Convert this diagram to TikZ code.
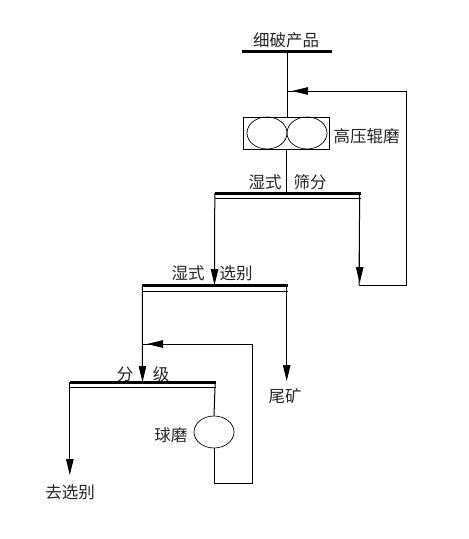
\documentclass[tikz,border=0pt]{standalone}
\usepackage{fontspec}
\usepackage{xcolor}
\usetikzlibrary{arrows.meta,calc,positioning,shapes.geometric}
\newfontfamily\cjk{Noto Sans CJK SC}

\begin{document}
\begin{tikzpicture}[x=1pt, y=-1pt,
    every node/.style={inner sep=0pt},
    lab/.style={font=\cjk\fontsize{16.5}{18}\selectfont, text=black!85},
    bar/.style={fill=black, minimum height=3pt},
    thinbar/.style={fill=black, minimum height=1pt},
    roll/.style={draw, ellipse, minimum width=40pt, minimum height=32pt, line width=0.7pt},
    pipe/.style={line width=1pt},
    arr/.style={pipe, -{Triangle[length=16pt, width=7.5pt]}}]
  \useasboundingbox (0,0) rectangle (469,539);
  % bars
  \node[bar, minimum width=90pt] (feed) at (287,51) {};
  \node[bar, minimum width=146pt] (scrA) at (287.5,193) {};
  \node[thinbar, minimum width=146pt] (scrAb) at (287.5,198) {};
  \node[bar, minimum width=146pt] (sepA) at (214.5,285) {};
  \node[thinbar, minimum width=146pt] (sepAb) at (214.5,291) {};
  \node[bar, minimum width=146pt] (clsA) at (142.5,382) {};
  \node[thinbar, minimum width=146pt] (clsAb) at (142.5,387) {};
  % roller press
  \node[draw, line width=0.8pt, minimum width=86pt, minimum height=32pt] (hpgr) at (286,133) {};
  \node[roll] (rollL) at (267,133) {};
  \node[roll] (rollR) at (307,133) {};
  \node[roll] (mill) at (214,432) {};
  % labels
  \node[lab] (feedlab) at (286,40) {细破产品};
  \node[lab, right=4pt of hpgr, yshift=-3pt] (hpgrlab) {高压辊磨};
  \node[lab] (scrlabL) at (265,182) {湿式};
  \node[lab] (scrlabR) at (310,182) {筛分};
  \node[lab] (seplabL) at (188,273) {湿式};
  \node[lab] (seplabR) at (236,273) {选别};
  \node[lab] (clslabL) at (125,374) {分};
  \node[lab] (clslabR) at (161,374) {级};
  \node[lab] (tail) at (285,396) {尾矿};
  \node[lab, left=6pt of mill, yshift=-3pt] (milllab) {球磨};
  \node[lab] (conc) at (70,492) {去选别};
  % turning points
  \coordinate (backA) at (288,91);
  \coordinate (backT) at (292,91);
  \coordinate (backB) at (406,91);
  \coordinate (backC) at (406,285);
  \coordinate (backD) at (359,285);
  \coordinate (retA) at (143,344);
  \coordinate (retT) at (147,344);
  \coordinate (retB) at (252,344);
  \coordinate (retC) at (252,483);
  \coordinate (retD) at (214,483);
  % flows
  \draw[pipe] (feed.center) -- (feed.center |- hpgr.north);
  \draw[pipe] (hpgr.south) -- (hpgr.south |- scrA.center);
  \draw[arr] (scrA.west) ++(0.5,0) -- (sepA.center);
  \draw[pipe] (scrA.east) ++(-1,0) -- (backD);
  \draw[arr] (scrA.east) ++(-1,0) -- ++(0,90);
  \draw[pipe] (backD) -- (backC) -- (backB) -- (backA);
  \draw[arr] (backB) -- (backT);
  \draw[arr] (sepA.west) ++(1,0) -- (clsA.center);
  \draw[arr] (sepA.east) ++(-1,0) -- ++(0,96);
  \draw[arr] (clsA.west) ++(0.5,0) -- ++(0,93);
  \draw[pipe] (retB) -- (retA);
  \draw[arr] (retB) -- (retT);
  \draw[pipe] (clsA.east) ++(-0.5,0) -- (mill.north);
  \draw[pipe] (mill.south) -- (retD) -- (retC) -- (retB);
\end{tikzpicture}
\end{document}
